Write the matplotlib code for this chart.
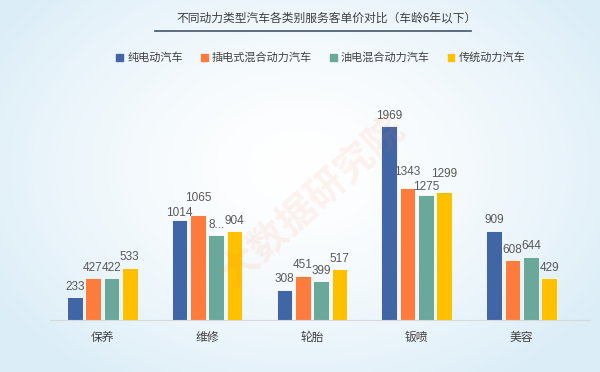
import numpy as np
import matplotlib.pyplot as plt
from matplotlib.patches import Patch

plt.rcParams['font.family'] = ['Noto Sans CJK SC', 'DejaVu Sans']

categories = ['保养', '维修', '轮胎', '钣喷', '美容']
series = ['纯电动汽车', '插电式混合动力汽车', '油电混合动力汽车', '传统动力汽车']
ev = [233, 1014, 308, 1969, 909]
phev = [427, 1065, 451, 1343, 608]
hev = [422, 862, 399, 1275, 644]
ice = [533, 904, 517, 1299, 429]
labels_hev = ['422', '8...', '399', '1275', '644']
colors = ['#4166a6', '#fd7b3c', '#69a89b', '#ffc000']

# extra label lift (points) for crowded labels: (series, category)
nudge = {(0, 1): -2, (1, 1): 5, (1, 3): 4, (2, 3): -2, (3, 3): 6}

fig = plt.figure(figsize=(6, 3.72), dpi=100)

# background gradient
bg = fig.add_axes([0, 0, 1, 1], zorder=-10)
yy, xx = np.mgrid[0:1:200j, 0:1:300j]
d = np.clip(np.sqrt(((xx - 0.5) / 0.6) ** 2 + ((yy - 0.45) / 0.7) ** 2), 0, 1)
c0 = np.array([1.0, 1.0, 1.0])
c1 = np.array([0.86, 0.93, 0.97])
img = c0 + (c1 - c0) * d[..., None] ** 1.5
bg.imshow(img, aspect='auto', extent=[0, 1, 0, 1])
bg.axis('off')

ax = fig.add_axes([0.083, 0.14, 0.9, 0.634])
ax.patch.set_alpha(0)
x = np.arange(len(categories))
w = 0.15
step = 0.175
data = [ev, phev, hev, ice]
for i, vals in enumerate(data):
    pos = x + (i - 1.5) * step
    ax.bar(pos, vals, w, color=colors[i], edgecolor='white', linewidth=0.6)
    labs = labels_hev if i == 2 else [str(v) for v in vals]
    for j, (p, v, t) in enumerate(zip(pos, vals, labs)):
        ax.annotate(t, (p, v), xytext=(0, 3 + nudge.get((i, j), 0)),
                    textcoords='offset points', ha='center', va='bottom',
                    fontsize=8.5, color='#595959', family='Liberation Sans')

ax.set_xlim(-0.5, 4.65)
ax.set_ylim(0, 2400)
ax.set_yticks([])
ax.set_xticks(x)
ax.set_xticklabels(categories, fontsize=8.5, color='#404040')
ax.tick_params(axis='x', length=0, pad=8)
for s in ['top', 'right', 'left']:
    ax.spines[s].set_visible(False)
ax.spines['bottom'].set_color('#d9d9d9')

fig.text(0.545, 0.952, '不同动力类型汽车各类别服务客单价对比（车龄6年以下）',
         ha='center', va='center', fontsize=8.5, color='#404040')
fig.add_artist(plt.Line2D([0.258, 0.785], [0.918, 0.918], color='#44546a', lw=1.2))

handles = [Patch(color=c) for c in colors]
fig.legend(handles, series, loc='center', bbox_to_anchor=(0.535, 0.845), ncol=4,
           frameon=False, fontsize=8, handlelength=0.6, handleheight=0.6,
           columnspacing=1.6, handletextpad=0.4, labelcolor='#404040')

fig.text(0.52, 0.46, '大数据研究院', rotation=42, fontsize=28, color='#fd7b3c',
         alpha=0.09, ha='center', va='center', fontweight='bold')

fig.savefig('out.png', dpi=100)
